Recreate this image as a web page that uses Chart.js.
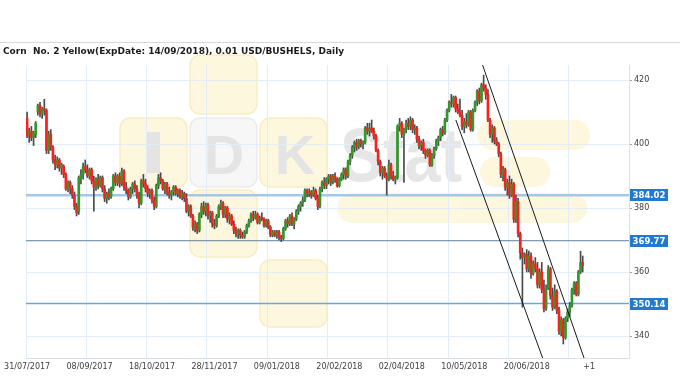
<!DOCTYPE html>
<html><head><meta charset="utf-8">
<script src="https://cdn.jsdelivr.net/npm/chart.js@4.4.1/dist/chart.umd.min.js"></script>
<style>html,body{margin:0;padding:0;background:#fff}#wrap{width:680px;height:380px;position:relative}</style>
</head><body><div id="wrap"><canvas id="c" width="680" height="380"></canvas></div>
<script>
const chartTitle = 'Corn  No. 2 Yellow(ExpDate: 14/09/2018), 0.01 USD/BUSHELS, Daily';
const xLabelIdx = [0, 29, 58, 87, 116, 145, 174, 203, 232, 261];
const xLabels = ['31/07/2017','08/09/2017','18/10/2017','28/11/2017','09/01/2018','20/02/2018','02/04/2018','10/05/2018','20/06/2018','+1'];
const yTicks = [340, 360, 380, 400, 420];
const levels = [384.02, 369.77, 350.14];
const trendUpperX = [209, 259.5], trendUpperY = [429.55, 331.4];
const trendLowerX = [199.1, 240.5], trendLowerY = [407.5, 331.1];

const opens = [
408,403,404,402,403,410,412,409.5,411,410.5,
398,403,399,395,393.5,395,392.5,393,390.5,386,
388,386,384,380.5,379,389,390.5,393,392,390,
392,388.5,386.5,389,387,389.5,386,383,384.5,383.5,
386,390,388,390,387.5,391.5,386.5,385.5,383.5,386,
387.5,386,384,381.5,388.5,387.5,386,384.5,385.5,382.5,
380.5,387,389.5,388.5,386,387.5,385,384,385,386.5,
384.5,385.5,383.5,384.5,383,379,380.5,377.5,374,375,
373,378,380.5,379,381,377.5,378.5,375,374.5,377.5,
380.5,381.5,378,380,376.5,377.5,375,373,372,373,
371.5,371,372.5,374.5,376,378,377,378,375.5,377,
376.5,374.5,376,374,371.5,372.5,371.5,372.5,371,370.5,
373.5,376,375,377.5,375,376.5,379,380.5,381.5,382.5,
385.5,384.5,385,384,385.5,383,380.5,386,388,387,
389,390,388,390,389,387,389,390.5,392,390,
394.5,396.5,399,400.5,399,401,400,400.5,405,404,
405,404,402.5,398,394.5,391,392.5,390,389,393.5,
390,389,389.5,405.5,406.5,403,404.5,406.5,405.5,407.5,
404.5,405,401.5,399.5,400.5,398,396.5,398,393.5,396.5,
398.5,401,402,404.5,403.5,407.5,410.5,413,412.5,414.5,
411,410,409,405.5,407,406,410,404.5,410.5,413,
416.5,413.5,418.5,417.5,415.5,407.5,403,405,401,400,
397,390.5,392,386.5,388,384,387.5,376.5,382,372,
366,364.5,365.5,361,365,359.5,362.5,361,356,360,
354.5,348.5,355,361,352.5,349,354,348,341.5,345,
339.5,345.5,347.5,349.5,354.5,356.5,353,360,363];
const highs = [
410,405,405.5,404,407,412.5,413,411.5,414,411,
404,404.5,399.5,396.5,396,395.5,394,393.5,391,388.5,
388.5,387,385,381.5,390,392,394,395,393.5,392.5,
392.5,390,389.5,390.5,390,390,387,385,386,386.5,
390.5,391,390.5,391,392.5,392,388,386,386.5,388,
388.5,387,385,389,390.5,389,387,386,386,383.5,
387.5,390.5,391,389,388,388,386.5,385.5,387,387,
386,386,385.5,385,384.5,381,381,378,376,375.5,
378.5,381.5,382,381.5,381.5,379,379,376.5,378,381,
382.5,382,380.5,380.5,378.5,378,376,374,373.5,373.5,
372.5,373,375,376.5,378.5,379,379,378.5,377.5,378.5,
377,376.5,376.5,374.5,373,373,373,373,371.5,374,
376.5,377,378,378.5,377,379.5,381,382,383.5,386,
386,386,385.5,386.5,386,384,386.5,388.5,389.5,389.5,
390.5,390.5,390.5,391,389.5,389.5,391,392.5,392.5,395,
397,399.5,401,401.5,401.5,401.5,401,405.5,406.5,406.5,
407.5,405,403,398.5,395,393,393,391,395,394,
391.5,390,406,408,407,405,407.5,408,408.5,408,
406,405.5,402.5,401,401.5,398.5,398.5,398.5,397,399,
401.5,402.5,405,405.5,408,411,413.5,415.5,415,415,
412.5,414,410.5,408,409.5,410.5,410.5,411,413.5,417,
417.5,419,421.5,418.5,417,408,406,405.5,402,400.5,
397.5,393,392.5,389,390,389,388,384,383,372.5,
367.5,366,367,366.5,366,363.5,364.5,363,361,363,
357.5,356,362,361.5,355,356,354.5,349,346,345.5,
346,348.5,350.5,355,357,357,360.5,366.5,365];
const lows = [
402,400.5,401,399.5,402,409,408.5,408,409,397,
397,398,394,392,392.5,391.5,390.5,389.5,385.5,385,
384.5,383,379.5,377.5,378,387.5,389,391,389.5,389,
387.5,379,385.5,386,386.5,385,382,381.5,382.5,383,
385.5,387,387,386.5,387,385.5,384.5,382.5,383,384.5,
385,383,380,381,386.5,385,383.5,383,381.5,379.5,
380,386,387.5,385.5,384.5,384,383,382.5,384,384,
383.5,383,382.5,382,378.5,377.5,377,373,372.5,372,
372.5,377,378,377.5,376.5,375.5,374,373.5,374,377,
379.5,377,377,375.5,375,374.5,372,371,370.5,370.5,
370.5,370.5,372,374,375.5,376,376.5,375,375,376,
374,374,373.5,371,371,371,370.5,370,369.5,370,
373,374,374.5,374.5,373.5,376,378,379,380.5,382,
383.5,383.5,383,383.5,382.5,379.5,380,385,386,386,
387.5,387,387.5,388,386.5,386.5,388.5,389,389,389.5,
393.5,395.5,397.5,398,398.5,399,398.5,400,403,402.5,
403.5,401.5,397.5,393.5,390,389,389.5,384,388.5,389,
388.5,387.5,389,404,402,388,403.5,404.5,404.5,403.5,
403,400.5,398.5,398,397,395.5,396,393,393,395.5,
398,399.5,401,402.5,403,407,410,411.5,411.5,410,
409.5,408.5,404.5,403.5,405,405.5,404,404,410,412,
412.5,413,416.5,414,407,402,400.5,400,399.5,396,
389.5,388.5,385.5,384,383,383.5,375.5,375.5,371,364,
349,362.5,360,360,358,359,360,355,355,353.5,
347.5,348,354.5,351.5,348,348.5,347,340.5,340,337.5,
339,344.5,346,349,353,352.5,352.5,359.5,360];
const closes = [
402.5,404,402,403.5,406.5,412,409.5,411,410.5,398,
403,399,395,393.5,395,392.5,393.5,390.5,386,388,
386,384,380.5,378.5,389.5,390.5,393,392,390,392,
388.5,386.5,389,387,389.5,386,383,384.5,383.5,386,
390,388,390,387.5,391.5,386.5,385.5,383.5,386,387.5,
386,384,381.5,388.5,387.5,386,384.5,385.5,382.5,380.5,
387,389.5,388.5,386,387.5,385,384,385,386.5,384.5,
385.5,383.5,384.5,383,379,380.5,377.5,374,375,373,
378,380.5,379,381,377.5,378.5,375,374.5,377.5,380.5,
381.5,378,380,376.5,377.5,375,373,372,373,371.5,
371,372.5,374.5,376,378,377,378,375.5,377,376.5,
374.5,376,374,371.5,372.5,371.5,372.5,371,370.5,373.5,
376,375,377.5,375,376.5,379,380.5,381.5,382.5,385.5,
384.5,385,384,385.5,383,380.5,386,388,387,389,
390,388,390,389,387,389,390.5,392,390,394.5,
396.5,399,400.5,399,401,400,400.5,405,404,405,
404,402.5,398,394.5,391,392.5,390,389,393.5,390,
389,389.5,405.5,406.5,403,404.5,406.5,405.5,407.5,404.5,
405,401.5,399.5,400.5,398,396.5,398,393.5,396.5,398.5,
401,402,404.5,403.5,407.5,410.5,413,412.5,414.5,411,
410,409,405.5,407,406,410,404.5,410.5,413,416.5,
413.5,418.5,417.5,415.5,407.5,403,405,401,400,397,
390.5,392,386.5,388,384,387.5,376.5,382,372,366,
364.5,365.5,361,365,359.5,362.5,361,356,360,354.5,
348.5,355,361,352.5,349,354,348,341.5,345,339.5,
345.5,347.5,349.5,354.5,356.5,353,360,363,362];

const UP = '#33982c', DOWN = '#ff1e1e', FLAT = '#8a8a8a', WICK = '#4a4a4a';
const levelStyles = [
  {color:'#a3c7ea', width:2.5},
  {color:'#5f7f9f', width:1},
  {color:'#6ea6dc', width:1.5}
];

const wickData = closes.map((c,i)=>({x:i, y:[lows[i], highs[i]]}));
const bodyData = closes.map((c,i)=>({x:i, y:[opens[i], c]}));
const bodyColors = closes.map((c,i)=> c>opens[i] ? UP : (c<opens[i] ? DOWN : FLAT));

const datasets = [];
levels.forEach((lv,k)=>{
  datasets.push({type:'line', data:[{x:-0.5,y:lv},{x:279.5,y:lv}], borderColor:levelStyles[k].color,
    borderWidth:levelStyles[k].width, pointRadius:0, order:5, xAxisID:'x', yAxisID:'y'});
});
datasets.push({type:'bar', data:wickData, backgroundColor:WICK, barThickness:1, grouped:false, order:3, xAxisID:'x', yAxisID:'y'});
datasets.push({type:'bar', data:bodyData, backgroundColor:bodyColors, barThickness:2, minBarLength:1, grouped:false, order:2, xAxisID:'x', yAxisID:'y'});
datasets.push({type:'line', data:trendUpperX.map((x,k)=>({x, y:trendUpperY[k]})), borderColor:'#1a1a1a', borderWidth:1, pointRadius:0, order:0, xAxisID:'x', yAxisID:'y'});
datasets.push({type:'line', data:trendLowerX.map((x,k)=>({x, y:trendLowerY[k]})), borderColor:'#1a1a1a', borderWidth:1, pointRadius:0, order:0, xAxisID:'x', yAxisID:'y'});

function rr(ctx,x,y,w,h,r,fill,stroke){
  ctx.beginPath(); ctx.roundRect(x,y,w,h,r); ctx.fillStyle=fill; ctx.fill();
  if(stroke){ctx.strokeStyle=stroke; ctx.lineWidth=1.5; ctx.stroke();}
}
const decor = {
  id:'decor',
  beforeDraw(chart){
    const ctx = chart.ctx;
    ctx.save();
    ctx.fillStyle='#fff'; ctx.fillRect(0,0,chart.width,chart.height);
    const Y='#fdf7de', YB='#f8edc2';
    rr(ctx,190,55,67,59,10,Y,YB);
    rr(ctx,120,118,67,69,10,Y,YB);
    rr(ctx,190,118,67,69,10,'#f7f7f7','#ebebeb');
    rr(ctx,260,118,67,69,10,Y,YB);
    rr(ctx,190,190,67,67,10,Y,YB);
    rr(ctx,260,260,67,67,10,Y,YB);
    rr(ctx,337,193,250,30,15,Y,null);
    rr(ctx,477,120,113,30,15,Y,null);
    rr(ctx,480,157,70,30,15,Y,null);
    ctx.fillStyle='#e4e4e4';
    ctx.fillRect(147,132,13,41);
    ctx.font='bold 56px "Liberation Sans"'; ctx.textAlign='center'; ctx.textBaseline='alphabetic';
    ctx.fillText('D',224,174);
    ctx.fillText('K',295,174);
    ctx.save(); ctx.translate(340,181); ctx.scale(0.85,1); ctx.textAlign='left';
    ctx.font='bold 76px "Liberation Sans"'; ctx.fillStyle='#e6e6e6'; ctx.fillText('Stat',0,0);
    ctx.restore();
    ctx.restore();
  },
  afterDraw(chart){
    const ctx = chart.ctx;
    ctx.save();
    ctx.strokeStyle='#d9d9d9'; ctx.lineWidth=1;
    ctx.beginPath(); ctx.moveTo(0,42.5); ctx.lineTo(chart.width,42.5); ctx.stroke();
    ctx.fillStyle='#1c1c1c'; ctx.font='bold 9px "DejaVu Sans"'; ctx.textAlign='left'; ctx.textBaseline='alphabetic';
    ctx.fillText(chartTitle,3,54);
    const ys = chart.scales.y;
    levels.forEach(lv=>{
      const py = ys.getPixelForValue(lv);
      ctx.fillStyle='#2179d0';
      ctx.fillRect(630, Math.round(py)-6, 38, 12);
      ctx.fillStyle='#fff'; ctx.font='bold 8.5px "DejaVu Sans"'; ctx.textAlign='center'; ctx.textBaseline='middle';
      ctx.fillText(lv.toFixed(2), 649, Math.round(py)+0.5);
    });
    ctx.restore();
  }
};

new Chart(document.getElementById('c'), {
  type:'bar',
  data:{datasets},
  plugins:[decor],
  options:{
    responsive:false, animation:false, events:[],
    layout:{padding:{left:23, top:65, right:0, bottom:0}},
    plugins:{legend:{display:false}, tooltip:{enabled:false}, title:{display:false}},
    scales:{
      x:{type:'linear', position:'bottom', min:-0.5, max:279.5, offset:false,
        afterBuildTicks:s=>{s.ticks = xLabelIdx.map(v=>({value:v}));},
        afterFit:s=>{s.height=22;},
        ticks:{autoSkip:false, maxRotation:0, minRotation:0, padding:4, color:'#404040',
          font:{family:'DejaVu Sans', size:8}, callback:(v,i)=>xLabels[i]},
        grid:{display:false, drawTicks:false, offset:false},
        border:{display:true, color:'#d3e2f1', width:1}},
      xg:{type:'linear', position:'bottom', min:0, max:10, offset:false,
        afterBuildTicks:s=>{s.ticks=[0,1,2,3,4,5,6,7,8,9,10].map(v=>({value:v}));},
        afterFit:s=>{s.height=0;},
        ticks:{display:false}, grid:{color:'#e3edf7', drawTicks:false, offset:false}, border:{display:false}},
      y:{position:'right', min:333.125, max:424.6875,
        afterBuildTicks:s=>{s.ticks = yTicks.map(v=>({value:v}));},
        afterFit:s=>{s.width=51;},
        ticks:{padding:2, color:'#404040', font:{family:'DejaVu Sans', size:8}},
        grid:{color:'#e3edf7', tickLength:3, tickColor:'#a0a0a0'},
        border:{display:true, color:'#d3e2f1', width:1}}
    }
  }
});
</script>
</body></html>
